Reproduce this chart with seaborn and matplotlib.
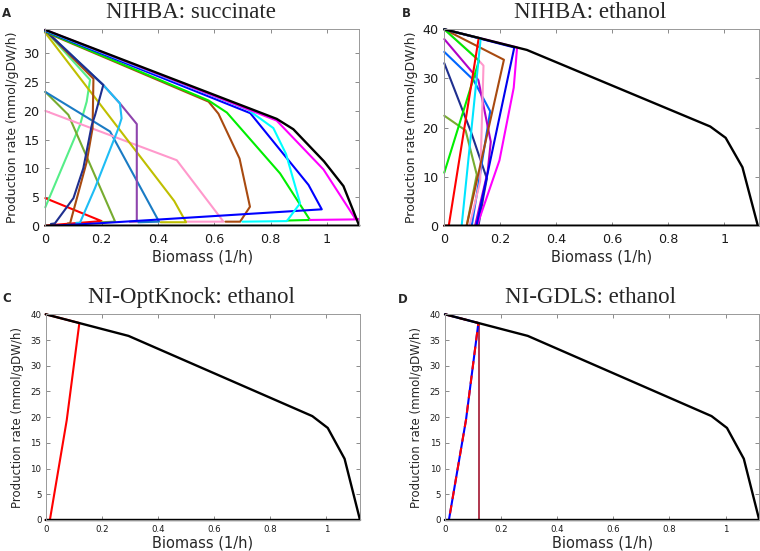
import matplotlib
matplotlib.use("Agg")
import matplotlib.pyplot as plt
import matplotlib.ticker as mticker
import seaborn as sns

# ---- shared envelope (wild type, ethanol) ----
wt_x = [0, 0.295, 0.95, 1.005, 1.065, 1.12, 0]
wt_y = [40, 35.8, 20.2, 17.9, 11.9, 0, 0]

# ---- panel A: NIHBA succinate ----
a_black_x = [0, 0.822, 0.881, 0.99, 1.059, 1.115, 0]
a_black_y = [34.1, 18.6, 16.8, 11.2, 6.9, 0, 0]
a_magenta_x = [0, 0.822, 0.988, 1.1, 1.113, 0.94]
a_magenta_y = [34.1, 18.3, 9.8, 1.3, 1.1, 1.0]
a_cyan_x = [0, 0.72, 0.81, 0.855, 0.905, 0.858, 0.70]
a_cyan_y = [34.0, 20.2, 17.0, 12.5, 3.9, 0.8, 0.7]
a_blue_x = [0, 0.728, 0.935, 0.982, 0.2, 0.03]
a_blue_y = [33.9, 19.6, 7.1, 2.85, 0.45, 0.0]
a_green_x = [0, 0.58, 0.645, 0.834, 0.94, 0.86]
a_green_y = [33.8, 21.8, 19.7, 9.1, 1.0, 0.9]
a_brown_x = [0, 0.58, 0.615, 0.69, 0.727, 0.692, 0.64]
a_brown_y = [33.7, 21.6, 19.5, 11.7, 3.3, 0.7, 0.7]
a_brown2_x = [0, 0.171, 0.168, 0.147, 0.088, 0.08]
a_brown2_y = [34.0, 25.6, 17.0, 11.1, 0.4, 0.4]
a_navy_x = [0, 0.206, 0.177, 0.165, 0.135, 0.1, 0.034, 0.02]
a_navy_y = [34.0, 24.5, 19.3, 17.5, 10.0, 4.8, 0.4, 0.3]
a_lgreen_x = [0, 0.159, 0.147, 0.123, 0]
a_lgreen_y = [34.0, 25.4, 21.6, 17.5, 3.2]
a_yellow_x = [0, 0.458, 0.5, 0.41]
a_yellow_y = [33.6, 4.3, 0.6, 0.6]
a_steel_x = [0, 0.23, 0.404, 0.33]
a_steel_y = [23.3, 16.4, 0.7, 0.6]
a_olive_x = [0, 0.082, 0.248, 0.2]
a_olive_y = [23.3, 19.3, 0.7, 0.6]
a_pink_x = [0, 0.467, 0.633, 0.5]
a_pink_y = [20.0, 11.4, 0.7, 0.7]
a_purple_x = [0, 0.206, 0.265, 0.325, 0.325, 0.3]
a_purple_y = [34.0, 24.5, 21.3, 17.7, 0.7, 0.7]
a_sky_x = [0, 0.206, 0.265, 0.271, 0.26, 0.176, 0.123, 0.11]
a_sky_y = [34.0, 24.5, 21.3, 18.7, 17.0, 6.5, 0.5, 0.5]
a_red_x = [0, 0.2, 0.02, 0]
a_red_y = [4.8, 0.8, 0.1, 0]

# ---- panel B: NIHBA ethanol ----
b_red_x = [0, 0.123, 0.016, 0]
b_red_y = [40, 38.25, 0, 0]
b_cyan_x = [0, 0.13, 0.062]
b_cyan_y = [40, 38.15, 0]
b_brown_x = [0, 0.213, 0.08]
b_brown_y = [40, 33.8, 0]
b_blue_x = [0, 0.25, 0.115]
b_blue_y = [40, 36.3, 0]
b_magenta_x = [0, 0.26, 0.248, 0.197, 0.117]
b_magenta_y = [40, 36.3, 28.1, 13.3, 0]
b_violet_x = [0, 0.104, 0.122, 0.166, 0.155, 0.11]
b_violet_y = [38.0, 31.0, 29.6, 17.1, 11.0, 0]
b_pink_x = [0, 0.116, 0.14, 0.128, 0.09]
b_pink_y = [40, 34.1, 32.6, 9.0, 0]
b_green_x = [0, 0.124, 0]
b_green_y = [40, 33.6, 10.8]
b_medblue_x = [0, 0.104, 0.164, 0.098]
b_medblue_y = [35.4, 29.7, 23.3, 0]
b_navy_x = [0, 0.096, 0.152, 0.14, 0.122]
b_navy_y = [33.1, 19.0, 9.6, 6.0, 0]
b_olive_x = [0, 0.076, 0.116, 0.08]
b_olive_y = [22.4, 19.4, 10.4, 0]

# ---- panel C: NI-OptKnock ethanol ----
c_red_x = [0, 0.12, 0.075, 0.015, 0]
c_red_y = [40, 38.3, 19.4, 0, 0]

# ---- panel D: NI-GDLS ethanol ----
d_blue_x = [0, 0.119, 0.075, 0.014, 0]
d_blue_y = [40, 38.3, 19.5, 0, 0]
d_red_x = [0, 0.119, 0.075, 0.014, 0]
d_red_y = [40, 38.3, 19.5, 0, 0]
d_dark_x = [0.123, 0.123]
d_dark_y = [0, 38.2]

titles = ["NIHBA: succinate", "NIHBA: ethanol", "NI-OptKnock: ethanol", "NI-GDLS: ethanol"]
letters = ["A", "B", "C", "D"]

sns.set_theme(style="white")
plt.rcParams["font.family"] = ["DejaVu Sans"]

fig = plt.figure(figsize=(7.6, 5.51), dpi=100)
axA = fig.add_axes([0.0596, 0.5904, 0.4134, 0.3564])
axB = fig.add_axes([0.5846, 0.5904, 0.4144, 0.3564])
axC = fig.add_axes([0.0601, 0.0563, 0.4136, 0.3733])
axD = fig.add_axes([0.5855, 0.0563, 0.4135, 0.3733])


def curve(ax, xs, ys, color, lw=1.5, **kw):
    sns.lineplot(x=xs, y=ys, sort=False, estimator=None, color=color,
                 linewidth=lw, ax=ax, clip_on=False, **kw)


# panel A
curve(axA, a_red_x, a_red_y, "#ff0000")
curve(axA, a_lgreen_x, a_lgreen_y, "#55ee88")
curve(axA, a_olive_x, a_olive_y, "#77ac30")
curve(axA, a_steel_x, a_steel_y, "#1a7bc4")
curve(axA, a_pink_x, a_pink_y, "#ff99cc")
curve(axA, a_yellow_x, a_yellow_y, "#bfbf00")
curve(axA, a_purple_x, a_purple_y, "#8e44ad")
curve(axA, a_sky_x, a_sky_y, "#1ebdf5")
curve(axA, a_brown2_x, a_brown2_y, "#a84a10")
curve(axA, a_navy_x, a_navy_y, "#1f2f8f")
curve(axA, a_brown_x, a_brown_y, "#a84a10")
curve(axA, a_green_x, a_green_y, "#00ee00")
curve(axA, a_blue_x, a_blue_y, "#0000ff")
curve(axA, a_cyan_x, a_cyan_y, "#00ffff")
curve(axA, a_magenta_x, a_magenta_y, "#ff00ff")
curve(axA, a_black_x, a_black_y, "black", lw=1.7)

# panel B
curve(axB, b_olive_x, b_olive_y, "#77ac30")
curve(axB, b_navy_x, b_navy_y, "#1f2f8f")
curve(axB, b_medblue_x, b_medblue_y, "#0066ff")
curve(axB, b_violet_x, b_violet_y, "#b000c8")
curve(axB, b_pink_x, b_pink_y, "#ff99cc")
curve(axB, b_brown_x, b_brown_y, "#a84a10")
curve(axB, b_green_x, b_green_y, "#00ee00")
curve(axB, b_magenta_x, b_magenta_y, "#ff00ff")
curve(axB, b_blue_x, b_blue_y, "#0000ee")
curve(axB, b_red_x, b_red_y, "#ff0000")
curve(axB, b_cyan_x, b_cyan_y, "#00e5ff")
curve(axB, wt_x, wt_y, "black", lw=1.7)

# panel C
curve(axC, c_red_x, c_red_y, "#ff0000")
curve(axC, wt_x, wt_y, "black", lw=1.7)

# panel D
curve(axD, d_dark_x, d_dark_y, "#a2142f", lw=1.2)
curve(axD, d_blue_x, d_blue_y, "#0000ff")
curve(axD, d_red_x, d_red_y, "#ff0000", linestyle=(0, (4, 3)))
curve(axD, wt_x, wt_y, "black", lw=1.7)

fmt = mticker.FuncFormatter(lambda v, p: "%g" % round(v, 2))
for i, ax in enumerate([axA, axB, axC, axD]):
    big = i < 2
    if i == 0:
        ax.set_xlim(0, 1.116)
        ax.set_ylim(0, 34.2)
        ax.set_yticks([0, 5, 10, 15, 20, 25, 30])
    elif i == 1:
        ax.set_xlim(0, 1.125)
        ax.set_ylim(0, 40)
        ax.set_yticks([0, 10, 20, 30, 40])
    else:
        ax.set_xlim(0, 1.12)
        ax.set_ylim(0, 40)
        ax.set_yticks(range(0, 41, 5))
    ax.set_xticks([0, 0.2, 0.4, 0.6, 0.8, 1])
    ax.xaxis.set_major_formatter(fmt)
    ax.yaxis.set_major_formatter(fmt)
    ax.tick_params(direction="in", length=3, width=0.6, color="#777777",
                   top=True, right=True, bottom=True, left=True,
                   labelsize=9.2 if big else 6.2, labelcolor="#1a1a1a",
                   pad=4 if big else 3)
    ax.tick_params(axis="x", pad=5.5 if big else 3.5)
    for s in ax.spines.values():
        s.set_color("#999999")
        s.set_linewidth(0.7)
    ax.set_xlabel("Biomass (1/h)", fontsize=10.5, labelpad=2 if big else 1)
    ax.set_ylabel("Production rate (mmol/gDW/h)", fontsize=9 if big else 8.5,
                  labelpad=3 if big else 5)
    ax.set_title(titles[i], family="Liberation Serif", fontsize=16.5, x=0.464,
                 pad=8)

fig.text(0.003, 0.969, "A", fontsize=8.5, fontweight="bold", va="baseline")
fig.text(0.529, 0.969, "B", fontsize=8.5, fontweight="bold", va="baseline")
fig.text(0.003, 0.452, "C", fontsize=8.5, fontweight="bold", va="baseline")
fig.text(0.524, 0.450, "D", fontsize=8.5, fontweight="bold", va="baseline")

fig.savefig("out.png", dpi=100)
